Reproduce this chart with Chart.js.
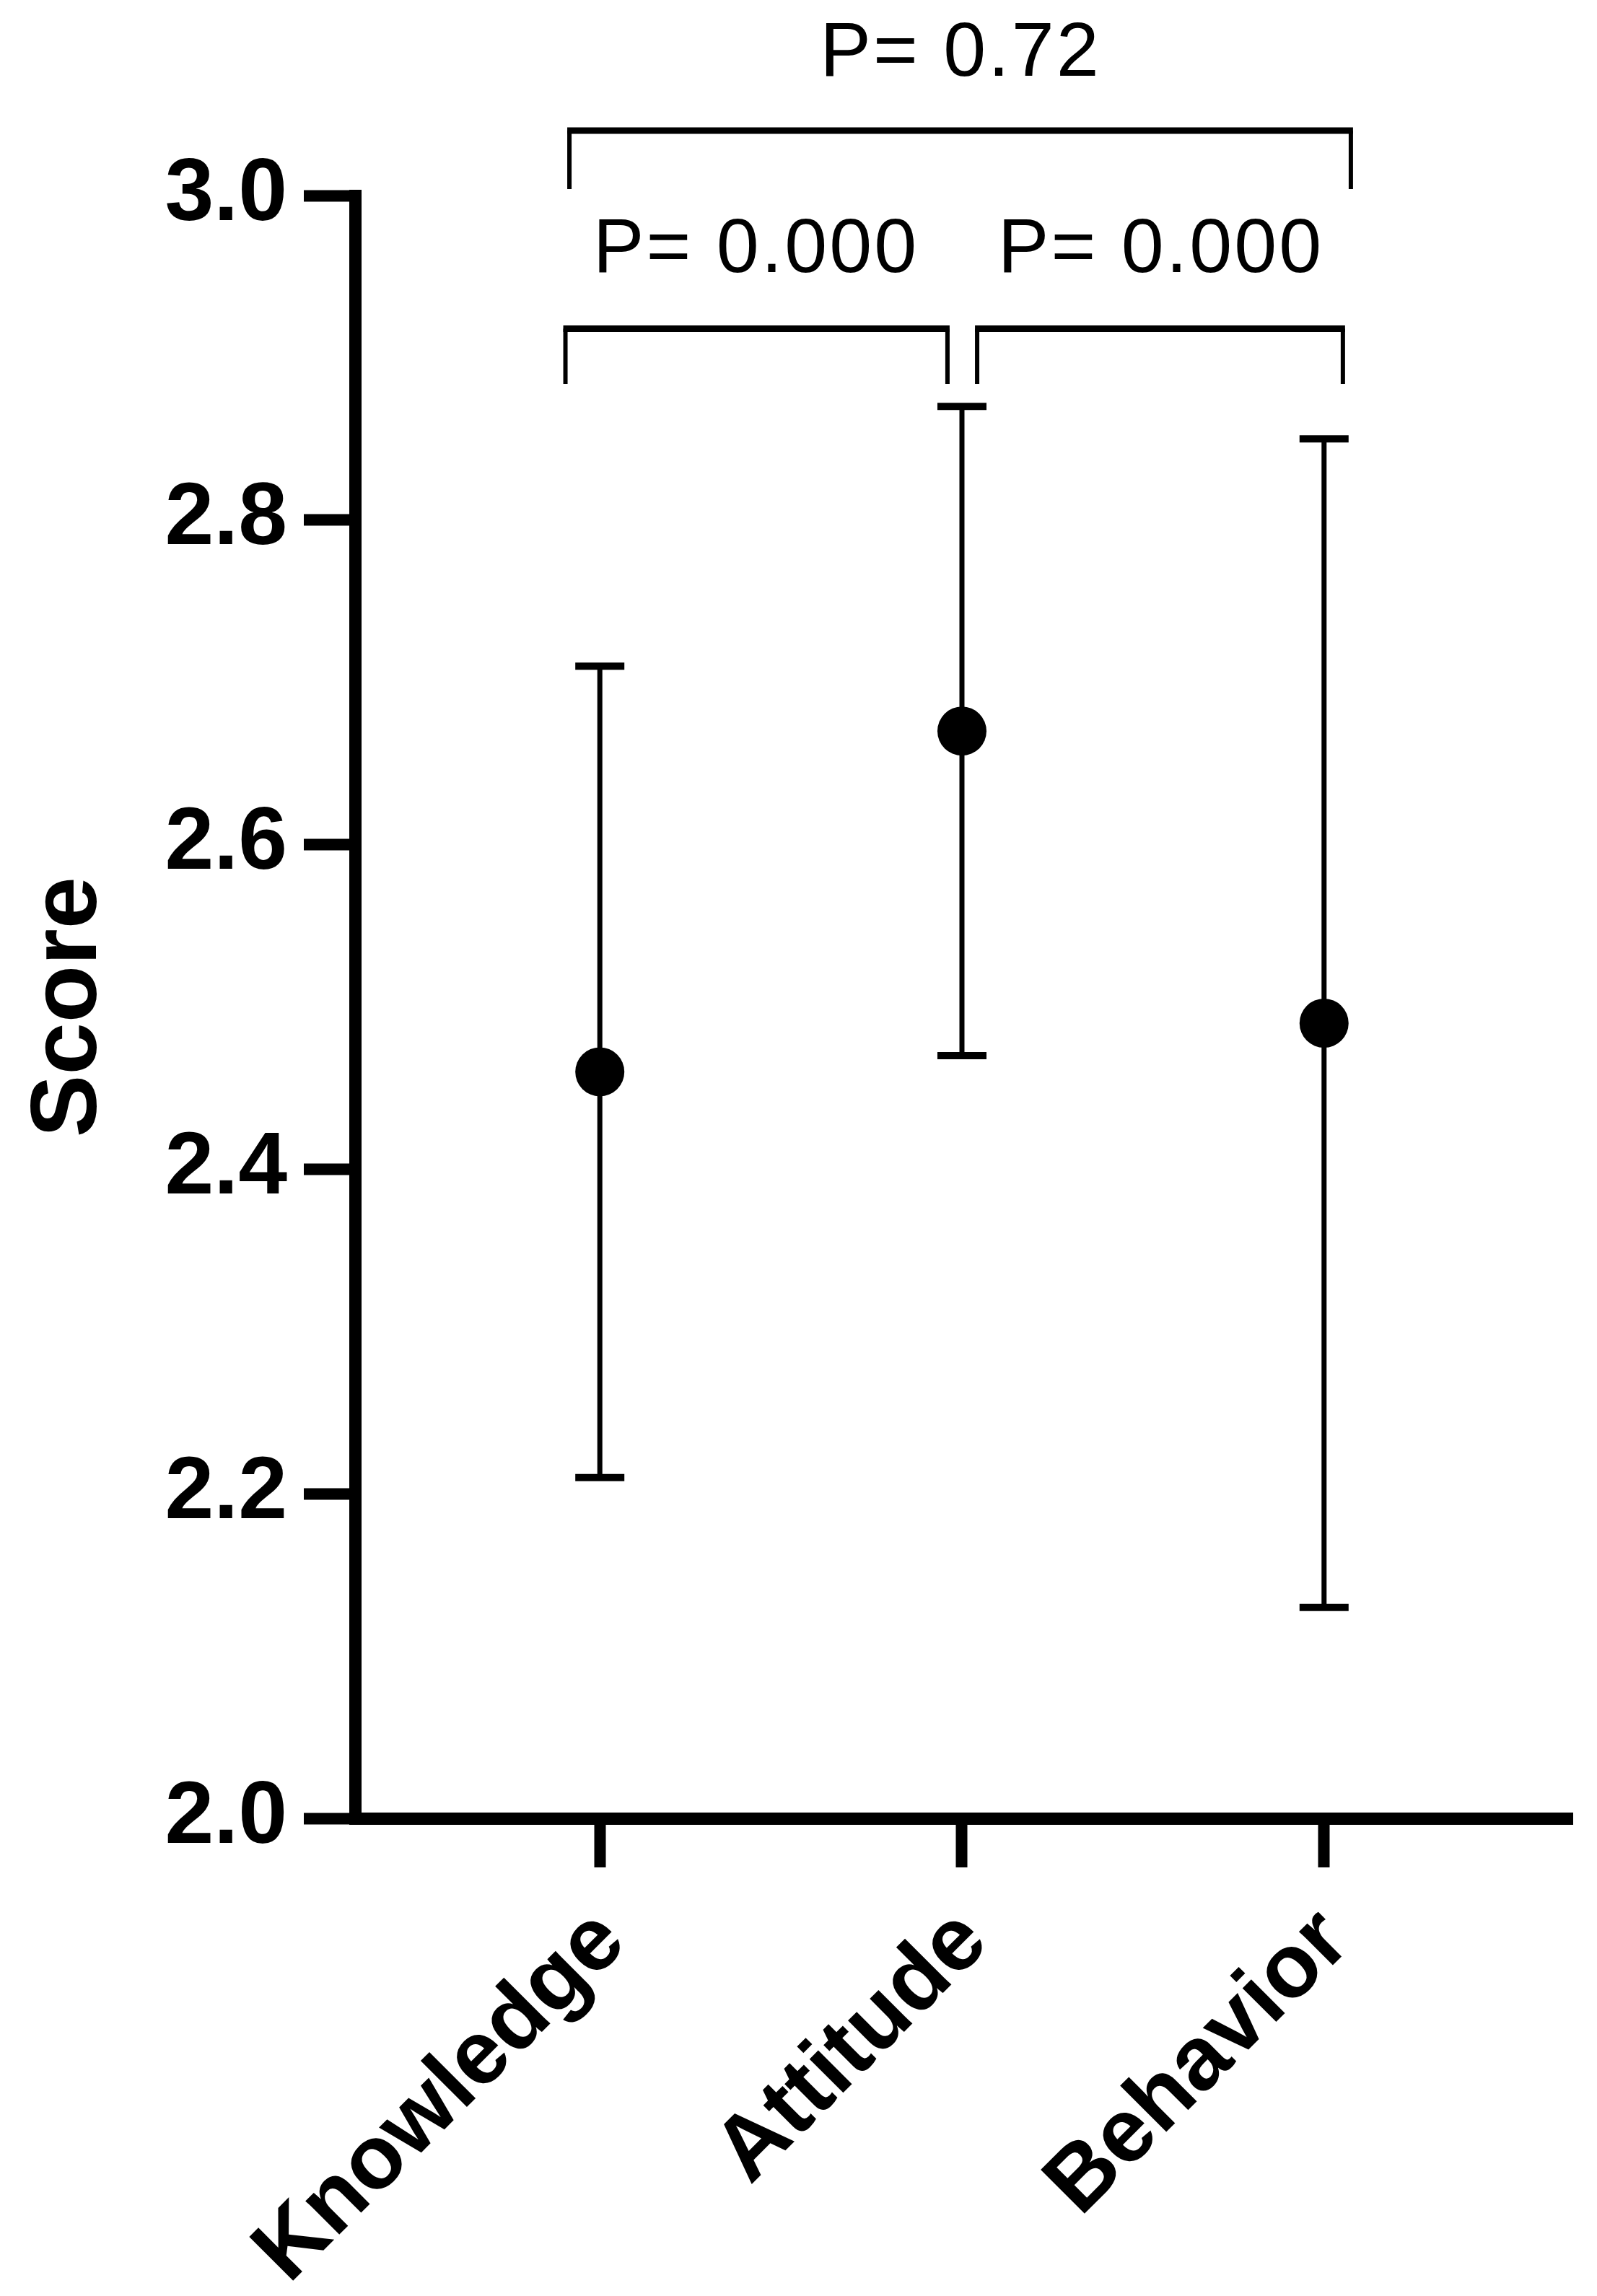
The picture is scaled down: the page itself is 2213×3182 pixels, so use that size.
<!DOCTYPE html>
<html>
<head>
<meta charset="utf-8">
<script src="https://cdn.jsdelivr.net/npm/chart.js@4.4.1/dist/chart.umd.min.js"></script>
<style>
html, body { margin: 0; padding: 0; background: #fff; }
#wrap { width: 2213px; height: 3182px; }
</style>
</head>
<body>
<div id="wrap"><canvas id="scoreChart" width="2213" height="3182"></canvas></div>
<script>
const categories = ["Knowledge", "Attitude", "Behavior"];
const means = [2.46, 2.67, 2.49];
const sds = [0.25, 0.20, 0.36];
const yTicks = [2.0, 2.2, 2.4, 2.6, 2.8, 3.0];

// comparison brackets, in category-index (x) and score (y) units
const bracketLabels = ["P= 0.000", "P= 0.000", "P= 0.72"];
const bracketFrom = [-0.095, 1.042, -0.084];
const bracketTo = [0.960, 2.052, 2.074];
const bracketTop = [2.918, 2.918, 3.040];
const bracketLegEnd = [2.884, 2.884, 3.004];
const bracketLabelX = [0.431, 1.549, 0.996];
const bracketLabelY = [2.966, 2.966, 3.087];

const family = '"Liberation Sans", Arial, sans-serif';
const ctx = document.getElementById("scoreChart").getContext("2d");

// mean +/- SD whiskers, drawn under the points
const errorBars = {
    id: 'errorBars',
    beforeDatasetsDraw(chart) {
        const { ctx, scales: { x, y } } = chart;
        ctx.save();
        ctx.strokeStyle = '#000';
        means.forEach((m, i) => {
            const px = x.getPixelForValue(i);
            const top = y.getPixelForValue(m + sds[i]);
            const bot = y.getPixelForValue(m - sds[i]);
            ctx.lineWidth = 7;
            ctx.beginPath();
            ctx.moveTo(px, top);
            ctx.lineTo(px, bot);
            ctx.stroke();
            ctx.lineWidth = 10;
            ctx.beginPath();
            ctx.moveTo(px - 34, top);
            ctx.lineTo(px + 34, top);
            ctx.moveTo(px - 34, bot);
            ctx.lineTo(px + 34, bot);
            ctx.stroke();
        });
        ctx.restore();
    }
};

// significance brackets and P values above the plot
const brackets = {
    id: 'brackets',
    afterDraw(chart) {
        const { ctx, scales: { x, y } } = chart;
        ctx.save();
        ctx.strokeStyle = '#000';
        ctx.fillStyle = '#000';
        bracketLabels.forEach((label, i) => {
            const x1 = x.getPixelForValue(bracketFrom[i]);
            const x2 = x.getPixelForValue(bracketTo[i]);
            const yt = y.getPixelForValue(bracketTop[i]);
            const yl = y.getPixelForValue(bracketLegEnd[i]);
            ctx.lineWidth = 6;
            ctx.beginPath();
            ctx.moveTo(x1, yl);
            ctx.lineTo(x1, yt);
            ctx.moveTo(x2, yt);
            ctx.lineTo(x2, yl);
            ctx.stroke();
            ctx.lineWidth = 9;
            ctx.beginPath();
            ctx.moveTo(x1 - 3, yt);
            ctx.lineTo(x2 + 3, yt);
            ctx.stroke();

            ctx.font = '106px ' + family;
            ctx.letterSpacing = '3px';
            ctx.textAlign = 'center';
            ctx.textBaseline = 'middle';
            ctx.fillText(label, x.getPixelForValue(bracketLabelX[i]), y.getPixelForValue(bracketLabelY[i]));
        });
        ctx.restore();
    }
};

new Chart(ctx, {
    type: 'scatter',
    data: {
        datasets: [{
            data: means.map((m, i) => ({ x: i, y: m })),
            pointRadius: 34,
            pointHoverRadius: 34,
            backgroundColor: '#000',
            borderWidth: 0
        }]
    },
    options: {
        responsive: false,
        animation: false,
        devicePixelRatio: 1,
        layout: { padding: { top: 271, right: 33, left: 0, bottom: 0 } },
        plugins: {
            legend: { display: false },
            tooltip: { enabled: false }
        },
        scales: {
            x: {
                type: 'linear',
                min: -0.676,
                max: 2.686,
                afterBuildTicks: s => { s.ticks = categories.map((c, i) => ({ value: i })); },
                afterFit: s => { s.height = 662; },
                grid: { drawOnChartArea: false, drawTicks: true, tickLength: 68, tickWidth: 16, tickColor: '#000' },
                border: { display: true, width: 17, color: '#000' },
                ticks: {
                    autoSkip: false,
                    minRotation: 45,
                    maxRotation: 45,
                    padding: 30,
                    labelOffset: 16,
                    color: '#000',
                    font: { family, size: 125, weight: 'bold' },
                    callback: v => categories[v] ?? ''
                }
            },
            y: {
                min: 2,
                max: 3,
                afterBuildTicks: s => { s.ticks = yTicks.map(v => ({ value: v })); },
                afterFit: s => { s.width = 492; },
                grid: { drawOnChartArea: false, drawTicks: true, tickLength: 71, tickWidth: 16, tickColor: '#000' },
                border: { display: true, width: 17, color: '#000' },
                ticks: {
                    padding: 23,
                    color: '#000',
                    font: { family, size: 122, weight: 'bold' },
                    callback: v => v.toFixed(1)
                },
                title: {
                    display: true,
                    text: 'Score',
                    color: '#000',
                    font: { family, size: 130, weight: 'bold', lineHeight: 1.2 },
                    padding: { top: 19, bottom: 0 }
                }
            }
        }
    },
    plugins: [errorBars, brackets]
});
</script>
</body>
</html>
